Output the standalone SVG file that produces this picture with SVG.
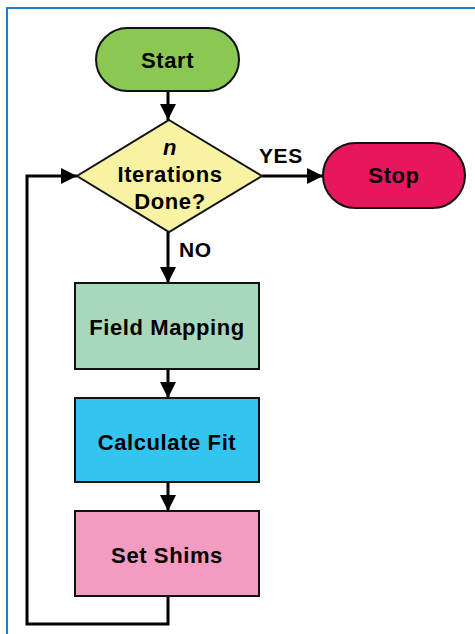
<svg xmlns="http://www.w3.org/2000/svg" width="475" height="634" viewBox="0 0 475 634">
  <style>
    .frame { fill: none; stroke: #1f7ccc; stroke-width: 2; }
    .shape { stroke: #111; stroke-width: 2; }
    .label { font-family: "Liberation Sans", Arial, sans-serif; font-weight: bold; font-size: 22px; letter-spacing: 0.6px; fill: #000; text-anchor: middle; }
    .edge { fill: none; stroke: #000; stroke-width: 3; }
    .tag { font-family: "Liberation Sans", Arial, sans-serif; font-weight: bold; font-size: 21px; letter-spacing: 0.6px; fill: #000; }
  </style>
  <defs>
    <marker id="arrow" viewBox="0 0 16 16" refX="16" refY="8" markerWidth="16" markerHeight="16" markerUnits="userSpaceOnUse" orient="auto">
      <path d="M0,0 L16,8 L0,16 Z" fill="#000"/>
    </marker>
  </defs>
  <rect width="475" height="634" fill="#fff"/>
  <rect class="frame" x="7" y="8" width="480" height="640"/>

  <g id="connectors">
    <line class="edge" x1="168" y1="92" x2="168" y2="120" marker-end="url(#arrow)"/>
    <line class="edge" x1="262" y1="176" x2="323" y2="176" marker-end="url(#arrow)"/>
    <line class="edge" x1="168" y1="232" x2="168" y2="283" marker-end="url(#arrow)"/>
    <line class="edge" x1="168" y1="369" x2="168" y2="398" marker-end="url(#arrow)"/>
    <line class="edge" x1="168" y1="482" x2="168" y2="511" marker-end="url(#arrow)"/>
    <polyline class="edge" points="168,596 168,624 27,624 27,176 77,176" marker-end="url(#arrow)"/>
    <text class="tag" x="259" y="163">YES</text>
    <text class="tag" x="179" y="257">NO</text>
  </g>

  <g id="start">
    <rect class="shape" x="96" y="28" width="143" height="63" rx="31.5" fill="#8bc753"/>
    <text class="label" x="167.5" y="68">Start</text>
  </g>

  <g id="decision">
    <polygon class="shape" points="169,120 262,176 169,232 77,176" fill="#f7f3a2"/>
    <text class="label" x="170" y="155" font-style="italic">n</text>
    <text class="label" x="170" y="182">Iterations</text>
    <text class="label" x="170" y="209">Done?</text>
  </g>

  <g id="stop">
    <rect class="shape" x="323" y="143" width="142" height="65" rx="32.5" fill="#e8175d"/>
    <text class="label" x="394" y="183">Stop</text>
  </g>

  <g id="field-mapping">
    <rect class="shape" x="75" y="283" width="184" height="86" fill="#a8d8bb"/>
    <text class="label" x="167" y="335">Field Mapping</text>
  </g>

  <g id="calculate-fit">
    <rect class="shape" x="75" y="398" width="184" height="84" fill="#33c4f0"/>
    <text class="label" x="167" y="450">Calculate Fit</text>
  </g>

  <g id="set-shims">
    <rect class="shape" x="75" y="511" width="184" height="85" fill="#f39bc0"/>
    <text class="label" x="167" y="563">Set Shims</text>
  </g>
</svg>
